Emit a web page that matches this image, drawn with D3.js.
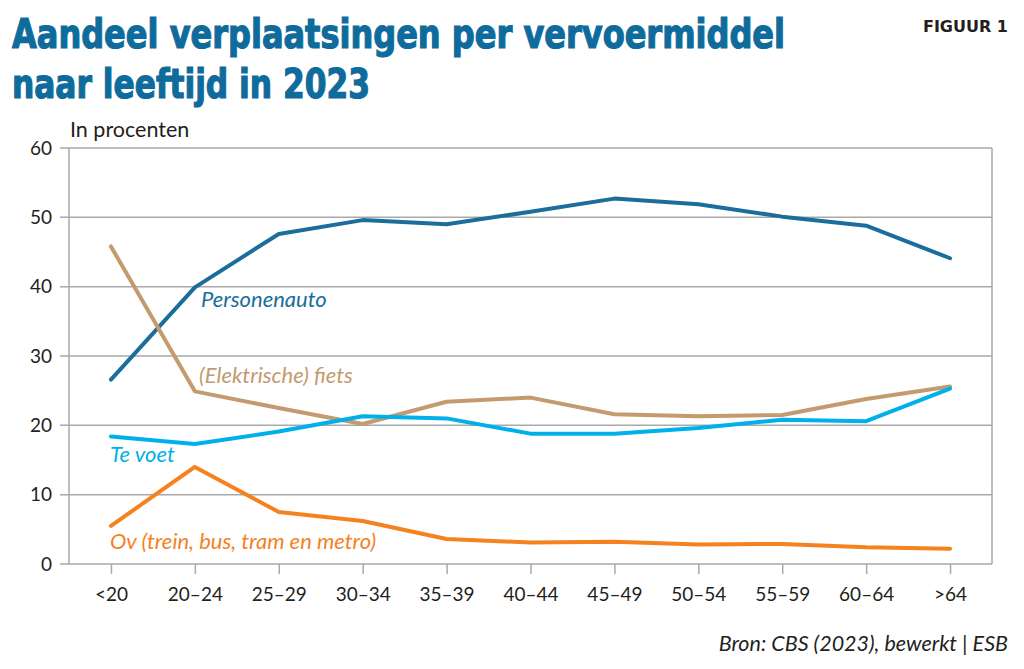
<!DOCTYPE html>
<html>
<head>
<meta charset="utf-8">
<script src="https://cdn.jsdelivr.net/npm/d3@7"></script>
<style>
  body { margin: 0; background: #fff; }
  svg { display: block; }
  .grid { stroke: #a7a9ad; stroke-width: 1.5; }
  .axis text { font-family: Lato, sans-serif; font-size: 19px; fill: #231f20; }
  .axis path, .axis line { stroke: #a7a9ad; stroke-width: 1.5; }
  .series { fill: none; stroke-width: 4; stroke-linejoin: round; stroke-linecap: round; }
  .series-label { font-family: Lato, sans-serif; font-style: italic; font-size: 22px; }
</style>
</head>
<body>
<div id="chart"></div>
<script>
// Categories and values (percent)
let ageGroups = ['<20', '20\u201324', '25\u201329', '30\u201334', '35\u201339', '40\u201344', '45\u201349', '50\u201354', '55\u201359', '60\u201364', '>64'];
let personenauto = [26.6, 39.9, 47.6, 49.6, 49.0, 50.8, 52.7, 51.9, 50.1, 48.8, 44.1];
let fiets = [45.8, 24.9, 22.5, 20.2, 23.4, 24.0, 21.6, 21.3, 21.5, 23.8, 25.6];
let teVoet = [18.4, 17.3, 19.1, 21.3, 21.0, 18.8, 18.8, 19.6, 20.8, 20.6, 25.3];
let ov = [5.5, 14.0, 7.5, 6.2, 3.6, 3.1, 3.2, 2.8, 2.9, 2.4, 2.2];
let yTicks = [0, 10, 20, 30, 40, 50, 60];

let series = [
    {name: 'Personenauto', values: personenauto, color: '#1b6d9c', lx: 201, ly: 307},
    {name: '(Elektrische) fiets', values: fiets, color: '#c39b6e', lx: 199, ly: 383},
    {name: 'Te voet', values: teVoet, color: '#00b0eb', lx: 110, ly: 462},
    {name: 'Ov (trein, bus, tram en metro)', values: ov, color: '#f5821f', lx: 110, ly: 549}
];

let W = 1024, H = 669;
let margin = {top: 148, right: 32, bottom: 105, left: 69},
    width = W - margin.left - margin.right,
    height = H - margin.top - margin.bottom;

let scX = d3.scalePoint().domain(ageGroups).range([0, width]).padding(0.5);
let scY = d3.scaleLinear().domain([0, 60]).range([height, 0]);

let root = d3.select('#chart').append('svg')
    .attr('width', W)
    .attr('height', H);

// Title block
let titleFont = '"DejaVu Sans Condensed", "DejaVu Sans", sans-serif';
root.append('text')
    .attr('x', 12).attr('y', 48)
    .attr('font-family', titleFont)
    .attr('font-weight', 'bold')
    .attr('font-size', 41)
    .attr('fill', '#0f6b9c')
    .attr('stroke', '#0f6b9c')
    .attr('stroke-width', 1.2)
    .attr('textLength', 773)
    .attr('lengthAdjust', 'spacingAndGlyphs')
    .text('Aandeel verplaatsingen per vervoermiddel');
root.append('text')
    .attr('x', 12).attr('y', 98)
    .attr('font-family', titleFont)
    .attr('font-weight', 'bold')
    .attr('font-size', 41)
    .attr('fill', '#0f6b9c')
    .attr('stroke', '#0f6b9c')
    .attr('stroke-width', 1.2)
    .attr('textLength', 358)
    .attr('lengthAdjust', 'spacingAndGlyphs')
    .text('naar leeftijd in 2023');
root.append('text')
    .attr('x', 1008).attr('y', 32)
    .attr('text-anchor', 'end')
    .attr('font-family', '"DejaVu Sans", sans-serif')
    .attr('font-weight', 'bold')
    .attr('font-size', 16)
    .attr('fill', '#231f20')
    .text('FIGUUR 1');

// Source
root.append('text')
    .attr('x', 1008).attr('y', 651)
    .attr('text-anchor', 'end')
    .attr('font-family', 'Lato, sans-serif')
    .attr('font-style', 'italic')
    .attr('font-size', 21.5)
    .attr('fill', '#231f20')
    .text('Bron: CBS (2023), bewerkt | ESB');

let svg = root.append('g')
    .attr('transform', `translate(${margin.left},${margin.top})`);

// Unit
svg.append('text')
    .attr('x', 1).attr('y', -11)
    .attr('font-family', 'Lato, sans-serif')
    .attr('font-size', 21.5)
    .attr('fill', '#231f20')
    .text('In procenten');

// Horizontal gridlines (with small stubs left of the axis)
svg.selectAll('line.grid')
    .data(yTicks)
    .enter()
    .append('line')
        .attr('class', 'grid')
        .attr('x1', -9)
        .attr('x2', width)
        .attr('y1', d => scY(d))
        .attr('y2', d => scY(d));

// Left axis line and right border
svg.append('line').attr('class', 'grid')
    .attr('x1', 0).attr('x2', 0).attr('y1', 0).attr('y2', height);
svg.append('line').attr('class', 'grid')
    .attr('x1', width).attr('x2', width).attr('y1', 0).attr('y2', height);

// Y labels
svg.selectAll('text.ylab')
    .data(yTicks)
    .enter()
    .append('text')
        .attr('class', 'ylab')
        .attr('x', -17)
        .attr('y', d => scY(d))
        .attr('dy', '0.35em')
        .attr('text-anchor', 'end')
        .attr('font-family', 'Lato, sans-serif')
        .attr('font-size', 19)
        .attr('fill', '#231f20')
        .text(d => d);

// X axis
let xAxis = d3.axisBottom(scX).tickSize(10).tickPadding(14);
svg.append('g')
    .attr('class', 'axis x-axis')
    .attr('transform', `translate(0,${height})`)
    .call(xAxis)
    .call(g => g.select('.domain').remove());

// Lines
let plotLine = d3.line()
    .x((d, i) => scX(ageGroups[i]))
    .y(d => scY(d));

svg.selectAll('path.series')
    .data(series)
    .enter()
    .append('path')
        .attr('class', 'series')
        .attr('stroke', d => d.color)
        .attr('d', d => plotLine(d.values));

// Direct labels
svg.selectAll('text.series-label')
    .data(series)
    .enter()
    .append('text')
        .attr('class', 'series-label')
        .attr('x', d => d.lx - margin.left)
        .attr('y', d => d.ly - margin.top)
        .attr('fill', d => d.color)
        .text(d => d.name);
</script>
</body>
</html>
